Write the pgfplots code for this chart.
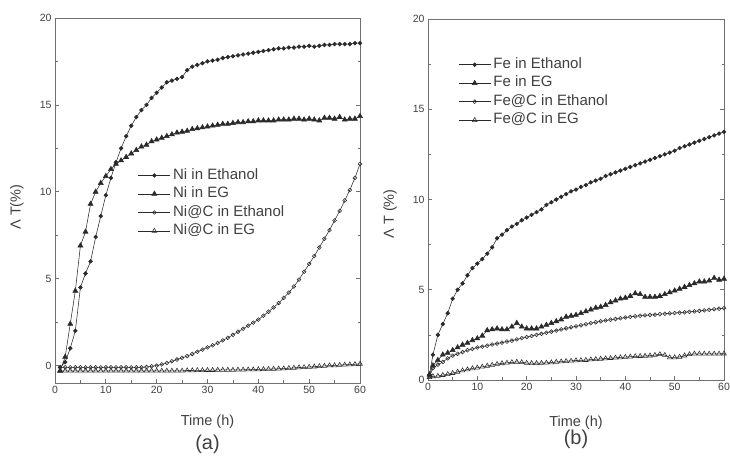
\documentclass[border=0pt]{standalone}
\usepackage{fontspec}
\setmainfont{Liberation Sans}
\usepackage{pgfplots}
\pgfplotsset{compat=1.18}
\definecolor{txt}{HTML}{404040}
\definecolor{ln}{HTML}{2A2A2A}
\definecolor{fr}{HTML}{707070}
\pgfplotsset{
  every axis title shift=0pt,
  panel/.style={
    scale only axis,
    xmin=0, xmax=60, ymax=20,
    xtick={0,10,...,60}, ytick={0,5,...,20},
    minor x tick num=1, minor y tick num=1,
    tick align=inside, xtick pos=left, ytick pos=both,
    major tick length=4pt, minor tick length=2.5pt,
    axis line style={draw=fr, line width=0.9pt},
    every tick/.style={draw=fr, line width=0.7pt},
    /pgf/number format/assume math mode=true,
    tick label style={font=\fontsize{10.5}{12}\selectfont, text=txt},
    label style={font=\fontsize{14.5}{17}\selectfont, text=txt},
    x label style={anchor=north, inner sep=0pt},
    y label style={anchor=center, inner sep=0pt},
    title style={font=\fontsize{20}{24}\selectfont, text=txt, anchor=north, inner sep=0pt},
    legend style={draw=none, fill=none, anchor=north west,
      font=\fontsize{15}{18}\selectfont, text=txt,
      nodes={inner sep=2.5pt, text height=10.5pt, text depth=3pt}},
    legend cell align=left,
    legend image code/.code={
      \draw[mark repeat=2,mark phase=2,#1] plot coordinates {(0pt,0pt) (16pt,0pt) (32pt,0pt)};
    },
    clip=false,
  },
  s1/.style={ln, line width=0.55pt, mark=*, mark size=1.9pt, mark options={solid}},
  s2/.style={ln, line width=0.55pt, mark=triangle*, mark size=2.9pt, mark options={solid}},
  s3/.style={ln, line width=0.55pt, mark=o, mark size=1.9pt, mark options={solid, line width=0.55pt}},
  s4/.style={ln, line width=0.55pt, mark=triangle, mark size=2.7pt, mark options={solid, line width=0.55pt}},
}
\begin{document}
\begin{tikzpicture}[x=1pt,y=1pt]
\useasboundingbox (0,0) rectangle (730,460);
% ---------------- (a) ----------------
\begin{axis}[panel, at={(55pt,77pt)}, anchor=south west,
  width=305pt, height=365pt, ymin=-1,
  xlabel={Time (h)}, ylabel={Λ T(\%)},
  x label style={at={(axis description cs:0.5,-0.088)}},
  y label style={at={(axis description cs:-0.125,0.482)}},
  title={(a)}, title style={at={(axis description cs:0.5,-0.142)}},
  legend style={at={(rel axis cs:0.262,0.6)}},
]
\addplot[s1] coordinates {(1,-0.1)(2,0.2)(3,1.0)(4,2.0)(5,4.5)(6,5.3)(7,6.0)(8,7.4)(9,8.6)(10,9.8)(11,10.8)(12,11.7)(13,12.5)(14,13.2)(15,13.8)(16,14.3)(17,14.7)(18,15.0)(19,15.4)(20,15.7)(21,16.0)(22,16.3)(23,16.4)(24,16.5)(25,16.6)(26,17.0)(27,17.2)(28,17.3)(29,17.4)(30,17.5)(31,17.55)(32,17.6)(33,17.7)(34,17.75)(35,17.8)(36,17.85)(37,17.9)(38,17.95)(39,18.0)(40,18.05)(41,18.1)(42,18.15)(43,18.2)(44,18.25)(45,18.25)(46,18.3)(47,18.3)(48,18.35)(49,18.35)(50,18.4)(51,18.35)(52,18.4)(53,18.45)(54,18.45)(55,18.5)(56,18.5)(57,18.5)(58,18.5)(59,18.55)(60,18.55)};
\addlegendentry{Ni in Ethanol}
\addplot[s2] coordinates {(1,-0.3)(2,0.5)(3,2.4)(4,4.3)(5,6.9)(6,7.7)(7,9.3)(8,10.0)(9,10.5)(10,10.9)(11,11.3)(12,11.6)(13,11.8)(14,12.0)(15,12.2)(16,12.4)(17,12.6)(18,12.7)(19,12.9)(20,13.0)(21,13.1)(22,13.2)(23,13.3)(24,13.4)(25,13.45)(26,13.5)(27,13.6)(28,13.65)(29,13.7)(30,13.75)(31,13.8)(32,13.85)(33,13.9)(34,13.9)(35,13.95)(36,14.0)(37,14.0)(38,14.05)(39,14.05)(40,14.1)(41,14.1)(42,14.1)(43,14.1)(44,14.15)(45,14.15)(46,14.15)(47,14.2)(48,14.2)(49,14.15)(50,14.2)(51,14.15)(52,14.1)(53,14.25)(54,14.25)(55,14.2)(56,14.3)(57,14.15)(58,14.2)(59,14.2)(60,14.35)};
\addlegendentry{Ni in EG}
\addplot[s3] coordinates {(1,-0.1)(2,-0.1)(3,-0.1)(4,-0.1)(5,-0.1)(6,-0.1)(7,-0.1)(8,-0.1)(9,-0.1)(10,-0.1)(11,-0.1)(12,-0.1)(13,-0.1)(14,-0.1)(15,-0.1)(16,-0.1)(17,-0.1)(18,-0.08)(19,-0.04)(20,0.0)(21,0.07)(22,0.15)(23,0.25)(24,0.35)(25,0.45)(26,0.55)(27,0.67)(28,0.8)(29,0.92)(30,1.05)(31,1.17)(32,1.3)(33,1.45)(34,1.6)(35,1.77)(36,1.95)(37,2.12)(38,2.3)(39,2.47)(40,2.65)(41,2.87)(42,3.1)(43,3.35)(44,3.6)(45,3.9)(46,4.2)(47,4.55)(48,4.95)(49,5.4)(50,5.85)(51,6.3)(52,6.8)(53,7.3)(54,7.8)(55,8.35)(56,8.9)(57,9.5)(58,10.1)(59,10.8)(60,11.6)};
\addlegendentry{Ni@C in Ethanol}
\addplot[s4] coordinates {(1,-0.3)(2,-0.3)(3,-0.3)(4,-0.3)(5,-0.3)(6,-0.3)(7,-0.3)(8,-0.3)(9,-0.3)(10,-0.3)(11,-0.3)(12,-0.3)(13,-0.3)(14,-0.3)(15,-0.3)(16,-0.3)(17,-0.3)(18,-0.3)(19,-0.3)(20,-0.3)(21,-0.3)(22,-0.3)(23,-0.3)(24,-0.3)(25,-0.3)(26,-0.28)(27,-0.28)(28,-0.27)(29,-0.27)(30,-0.26)(31,-0.26)(32,-0.25)(33,-0.25)(34,-0.25)(35,-0.25)(36,-0.24)(37,-0.24)(38,-0.23)(39,-0.23)(40,-0.22)(41,-0.21)(42,-0.2)(43,-0.19)(44,-0.18)(45,-0.17)(46,-0.15)(47,-0.13)(48,-0.11)(49,-0.1)(50,-0.08)(51,-0.06)(52,-0.04)(53,-0.02)(54,0.0)(55,0.01)(56,0.03)(57,0.05)(58,0.06)(59,0.08)(60,0.1)};
\addlegendentry{Ni@C in EG}
\end{axis}
% ---------------- (b) ----------------
\begin{axis}[panel, at={(428pt,80pt)}, anchor=south west,
  width=296pt, height=361pt, ymin=0,
  xlabel={Time (h)}, ylabel={Λ T (\%)},
  x label style={at={(axis description cs:0.5,-0.098)}},
  y label style={at={(axis description cs:-0.128,0.46)}},
  title={(b)}, title style={at={(axis description cs:0.5,-0.139)}},
  legend style={at={(rel axis cs:0.092,0.905)}},
]
\addplot[s1] coordinates {(0.3,0.3)(1,1.4)(2,2.5)(3,3.1)(4,3.7)(5,4.5)(6,5.0)(7,5.35)(8,5.8)(9,6.2)(10,6.45)(11,6.7)(12,7.0)(13,7.35)(14,7.85)(15,8.05)(16,8.3)(17,8.5)(18,8.65)(19,8.85)(20,9.0)(21,9.15)(22,9.3)(23,9.45)(24,9.7)(25,9.85)(26,10.0)(27,10.15)(28,10.3)(29,10.45)(30,10.55)(31,10.7)(32,10.8)(33,10.95)(34,11.05)(35,11.15)(36,11.3)(37,11.4)(38,11.5)(39,11.6)(40,11.7)(41,11.8)(42,11.9)(43,12.0)(44,12.1)(45,12.2)(46,12.3)(47,12.4)(48,12.5)(49,12.6)(50,12.7)(51,12.85)(52,12.95)(53,13.05)(54,13.15)(55,13.25)(56,13.35)(57,13.45)(58,13.55)(59,13.65)(60,13.75)};
\addlegendentry{Fe in Ethanol}
\addplot[s2] coordinates {(0.3,0.3)(1,0.8)(2,1.1)(3,1.4)(4,1.5)(5,1.65)(6,1.8)(7,1.95)(8,2.05)(9,2.2)(10,2.3)(11,2.45)(12,2.75)(13,2.8)(14,2.85)(15,2.8)(16,2.8)(17,2.95)(18,3.15)(19,2.95)(20,2.85)(21,2.85)(22,2.85)(23,2.95)(24,3.05)(25,3.15)(26,3.25)(27,3.35)(28,3.5)(29,3.55)(30,3.6)(31,3.7)(32,3.8)(33,3.9)(34,4.0)(35,4.05)(36,4.15)(37,4.3)(38,4.4)(39,4.5)(40,4.55)(41,4.65)(42,4.8)(43,4.75)(44,4.6)(45,4.6)(46,4.6)(47,4.65)(48,4.75)(49,4.85)(50,4.95)(51,5.05)(52,5.15)(53,5.25)(54,5.35)(55,5.45)(56,5.45)(57,5.5)(58,5.65)(59,5.55)(60,5.6)};
\addlegendentry{Fe in EG}
\addplot[s3] coordinates {(0.3,0.2)(1,0.65)(2,0.85)(3,1.0)(4,1.2)(5,1.35)(6,1.45)(7,1.55)(8,1.65)(9,1.72)(10,1.8)(11,1.85)(12,1.9)(13,1.97)(14,2.02)(15,2.07)(16,2.13)(17,2.18)(18,2.25)(19,2.32)(20,2.38)(21,2.44)(22,2.5)(23,2.56)(24,2.62)(25,2.68)(26,2.74)(27,2.8)(28,2.86)(29,2.92)(30,2.97)(31,3.03)(32,3.09)(33,3.15)(34,3.2)(35,3.25)(36,3.3)(37,3.34)(38,3.38)(39,3.42)(40,3.46)(41,3.5)(42,3.53)(43,3.56)(44,3.58)(45,3.6)(46,3.62)(47,3.65)(48,3.67)(49,3.69)(50,3.71)(51,3.73)(52,3.75)(53,3.78)(54,3.8)(55,3.83)(56,3.86)(57,3.89)(58,3.92)(59,3.95)(60,3.98)};
\addlegendentry{Fe@C in Ethanol}
\addplot[s4] coordinates {(0.3,0.15)(1,0.2)(2,0.22)(3,0.27)(4,0.32)(5,0.38)(6,0.45)(7,0.52)(8,0.58)(9,0.64)(10,0.68)(11,0.73)(12,0.78)(13,0.83)(14,0.88)(15,0.92)(16,0.95)(17,0.98)(18,1.0)(19,0.98)(20,0.94)(21,0.93)(22,0.93)(23,0.94)(24,0.95)(25,0.97)(26,1.0)(27,1.02)(28,1.04)(29,1.06)(30,1.08)(31,1.09)(32,1.1)(33,1.13)(34,1.15)(35,1.17)(36,1.19)(37,1.21)(38,1.23)(39,1.25)(40,1.27)(41,1.29)(42,1.31)(43,1.32)(44,1.33)(45,1.35)(46,1.38)(47,1.42)(48,1.38)(49,1.25)(50,1.25)(51,1.28)(52,1.35)(53,1.42)(54,1.45)(55,1.45)(56,1.45)(57,1.45)(58,1.45)(59,1.45)(60,1.46)};
\addlegendentry{Fe@C in EG}
\end{axis}
\end{tikzpicture}
\end{document}
